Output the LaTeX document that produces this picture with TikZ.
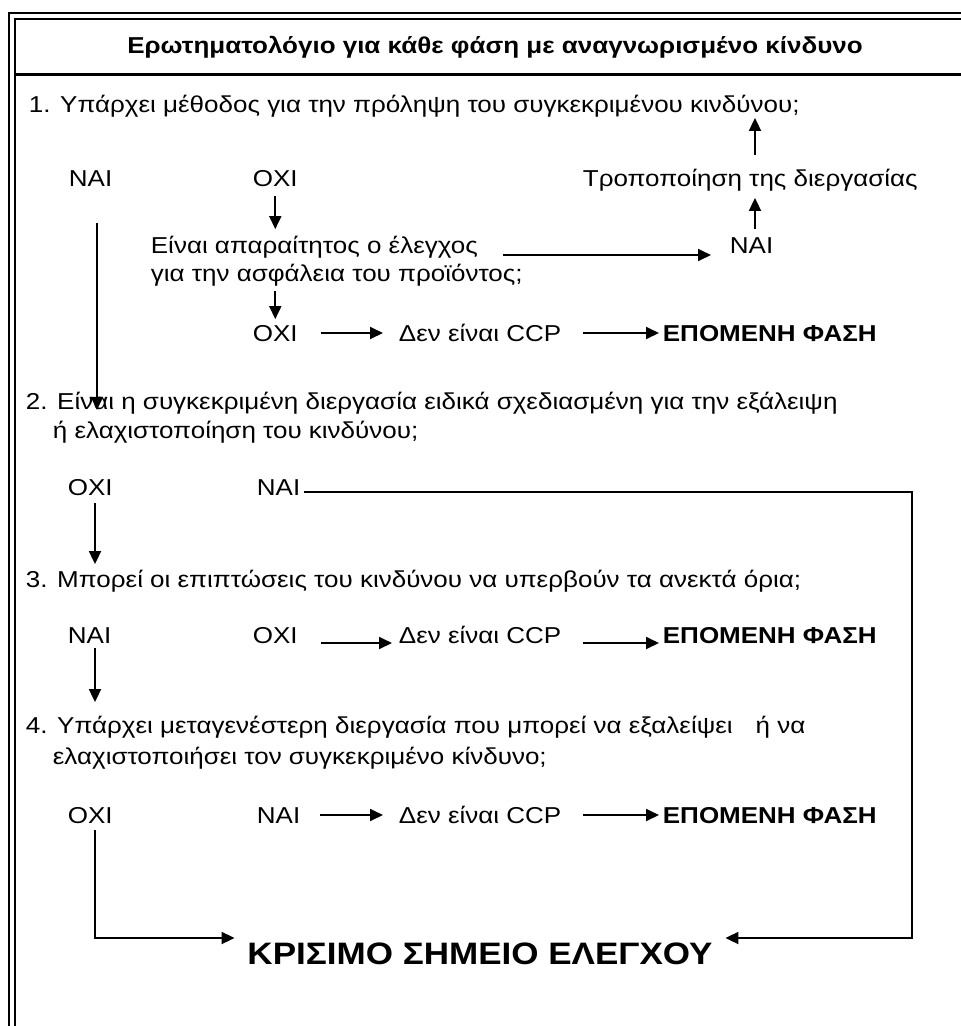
\documentclass[tikz,border=0pt]{standalone}
\usepackage{fontspec}
\setmainfont{Liberation Sans}[FakeStretch=1.13]
\usetikzlibrary{positioning, arrows.meta}

\begin{document}
\begin{tikzpicture}[->, x=1pt, y=-1pt, line width=1.8pt, >={Triangle[length=13pt,width=12pt]}]
\tikzstyle{txt}=[inner sep=0pt, anchor=west, text height=16pt, text depth=0pt, font=\fontsize{23}{26}\selectfont]
\tikzstyle{bold}=[txt, font=\fontsize{23}{26}\selectfont\bfseries]
\tikzstyle{head}=[inner sep=0pt, text height=15pt, text depth=0pt, font=\fontsize{23}{26}\selectfont\bfseries]
\tikzstyle{ccpbox}=[inner sep=0pt, text height=22pt, text depth=0pt, font=\fontsize{31}{34}\selectfont\bfseries]

\useasboundingbox (0,0) rectangle (961,1026);

% frame
\draw[-, line width=2pt] (9,1026) -- (9,13) -- (961,13);
\draw[-, line width=2pt] (15,1026) -- (15,19) -- (961,19);
\draw[-, line width=3pt] (15,74) -- (961,74);

\node[head]    (title)   at (495,46)  {Ερωτηματολόγιο για κάθε φάση με αναγνωρισμένο κίνδυνο};

% question 1
\node[txt]     (q1)      at (28,104)  {1. Υπάρχει μέθοδος για την πρόληψη του συγκεκριμένου κινδύνου;};
\node[txt]     (nai1)    at (68,178)  {ΝΑΙ};
\node[txt]     (oxi1)    at (252,178) {ΟΧΙ};
\node[txt]     (modify)  at (582,178) {Τροποποίηση της διεργασίας};
\node[txt]     (need)    at (150,245) {Είναι απαραίτητος ο έλεγχος};
\node[txt]     (need2)   at (150,273) {για την ασφάλεια του προϊόντος;};
\node[txt]     (nai1b)   at (729,245) {ΝΑΙ};
\node[txt]     (oxi1b)   at (252,333) {ΟΧΙ};
\node[txt]     (notccp1) at (398,333) {Δεν είναι CCP};
\node[bold]    (next1)   at (662,333) {ΕΠΟΜΕΝΗ ΦΑΣΗ};

% question 2
\node[txt]     (q2)      at (25,401)  {2. Είναι η συγκεκριμένη διεργασία ειδικά σχεδιασμένη για την εξάλειψη};
\node[txt]     (q2b)     at (52,430)  {ή ελαχιστοποίηση του κινδύνου;};
\node[txt]     (oxi2)    at (67,487)  {ΟΧΙ};
\node[txt]     (nai2)    at (256,487) {ΝΑΙ};

% question 3
\node[txt]     (q3)      at (25,579)  {3. Μπορεί οι επιπτώσεις του κινδύνου να υπερβούν τα ανεκτά όρια;};
\node[txt]     (nai3)    at (67,635)  {ΝΑΙ};
\node[txt]     (oxi3)    at (252,635) {ΟΧΙ};
\node[txt]     (notccp3) at (398,635) {Δεν είναι CCP};
\node[bold]    (next3)   at (662,635) {ΕΠΟΜΕΝΗ ΦΑΣΗ};

% question 4
\node[txt]     (q4)      at (25,725)  {4. Υπάρχει μεταγενέστερη διεργασία που μπορεί να εξαλείψει\quad ή να};
\node[txt]     (q4b)     at (52,756)  {ελαχιστοποιήσει τον συγκεκριμένο κίνδυνο;};
\node[txt]     (oxi4)    at (67,815)  {ΟΧΙ};
\node[txt]     (nai4)    at (256,815) {ΝΑΙ};
\node[txt]     (notccp4) at (398,815) {Δεν είναι CCP};
\node[bold]    (next4)   at (662,815) {ΕΠΟΜΕΝΗ ΦΑΣΗ};

\node[ccpbox]  (ccp)     at (480,953) {ΚΡΙΣΙΜΟ ΣΗΜΕΙΟ ΕΛΕΓΧΟΥ};

% turning points of the lines
\coordinate (modUp)   at (755,155);
\coordinate (naiUp)   at (755,229);
\coordinate (naiDown) at (97,223);
\coordinate (oxiDown) at (95,503);
\coordinate (naiDown3) at (95,648);
\coordinate (oxiDown4) at (95,830);
\coordinate (yesTurn) at (912,938);

\path
(modUp) edge [shorten >=5pt] (modUp |- q1.south)
(naiUp) edge [shorten >=11pt] (naiUp |- modify.south)
(oxi1.south) edge [shorten <=9pt, shorten >=7pt] (oxi1.south |- need.north)
([yshift=-10pt]need.east) edge [shorten <=24pt, shorten >=18pt] ([yshift=-10pt]nai1b.west)
(oxi1.south |- need2.south) edge [shorten <=9pt, shorten >=5pt] (oxi1.south |- oxi1b.north)
(oxi1b.east) edge [shorten <=22pt, shorten >=15pt] (notccp1.west)
(notccp1.east) edge [shorten <=21pt, shorten >=3pt] (next1.west)
(naiDown) edge (naiDown |- q2.south)
(oxiDown) edge [shorten >=6pt] (oxiDown |- q3.north)
([yshift=-8pt]oxi3.east) edge [shorten <=22pt, shorten >=6pt] ([yshift=-8pt]notccp3.west)
([yshift=-8pt]notccp3.east) edge [shorten <=21pt, shorten >=3pt] ([yshift=-8pt]next3.west)
(naiDown3) edge [shorten >=14pt] (naiDown3 |- q4.north)
(nai4.east) edge [shorten <=19pt, shorten >=15pt] (notccp4.west)
(notccp4.east) edge [shorten <=21pt, shorten >=3pt] (next4.west);

\draw[->, shorten >=12pt] ([xshift=3pt, yshift=-5pt]nai2.east) -| (yesTurn) -- (yesTurn -| ccp.east);
\draw[->, shorten >=12pt] (oxiDown4) |- (yesTurn -| ccp.west);

\end{tikzpicture}
\end{document}
